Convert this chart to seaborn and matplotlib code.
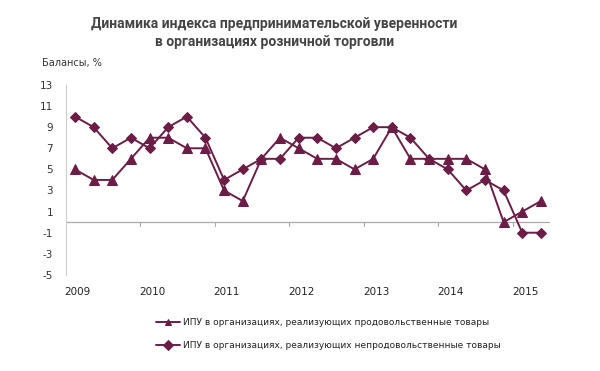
import pandas as pd
import matplotlib.pyplot as plt
import seaborn as sns

years = ['2009', '2010', '2011', '2012', '2013', '2014', '2015']
quarters = list(range(26))  # 2009 Q1 .. 2015 Q2

food = [5, 4, 4, 6, 8, 8, 7, 7, 3, 2, 6, 8, 7, 6, 6, 5, 6, 9, 6, 6, 6, 6, 5, 0, 1, 2]
nonfood = [10, 9, 7, 8, 7, 9, 10, 8, 4, 5, 6, 6, 8, 8, 7, 8, 9, 9, 8, 6, 5, 3, 4, 3, -1, -1]

lab_food = 'ИПУ в организациях, реализующих продовольственные товары'
lab_nonfood = 'ИПУ в организациях, реализующих непродовольственные товары'

df = pd.concat([
    pd.DataFrame({'q': quarters, 'val': food, 'series': lab_food}),
    pd.DataFrame({'q': quarters, 'val': nonfood, 'series': lab_nonfood}),
])

sns.set_style('white')
plt.rcParams['font.family'] = ['DejaVu Sans']
plt.rcParams['axes.unicode_minus'] = False
color = '#6b1d46'

fig = plt.figure(figsize=(6, 3.71), dpi=100)
ax = fig.add_axes([0.1095, 0.259, 0.8075, 0.512])

sns.lineplot(data=df, x='q', y='val', hue='series', style='series',
             palette=[color, color], markers=['^', 'D'], dashes=False,
             markersize=5.5, linewidth=1.4, markeredgecolor=color, ax=ax)
# triangles a touch larger than the diamonds
ax.lines[0].set_markersize(6.5)

ax.set_xlim(-0.5, 25.5)
ax.set_ylim(-5, 13)
ax.set_yticks(range(-5, 14, 2))
ax.tick_params(axis='y', length=3, color='#bbbbbb', labelsize=7.5, labelcolor='#333333', pad=6)
for s in ['top', 'right', 'bottom']:
    ax.spines[s].set_visible(False)
ax.spines['left'].set_color('#cccccc')
ax.spines['left'].set_linewidth(0.8)
ax.axhline(0, color='#aaaaaa', lw=0.9, zorder=0)

# year ticks on the zero line, labels below the plot
ax.set_xticks([])
for i in range(1, 7):
    ax.plot([i * 4 - 0.5] * 2, [0, -0.35], color='#aaaaaa', lw=0.8, clip_on=False)
for i, y in enumerate(years):
    ax.text(i * 4 + 0.15, -6.1, y, ha='center', va='top', fontsize=7.5, color='#222222')
ax.set_xlabel('')
ax.set_ylabel('')

fig.text(0.07, 0.822, 'Балансы, %', fontsize=7, color='#333333')
fig.text(0.457, 0.955, 'Динамика индекса предпринимательской уверенности\nв организациях розничной торговли',
         ha='center', va='top', fontsize=10, fontweight='bold', color='#444444',
         family=['Roboto', 'DejaVu Sans'], linespacing=1.35)

leg = ax.legend(loc='upper left', bbox_to_anchor=(0.17, -0.185), frameon=False,
                fontsize=6.5, handlelength=2.6, labelspacing=1.5, handletextpad=0.4)
for ln in leg.get_lines():
    ln.set_markersize(5)
for t in leg.get_texts():
    t.set_color('#222222')

fig.savefig('out.png', dpi=100)
